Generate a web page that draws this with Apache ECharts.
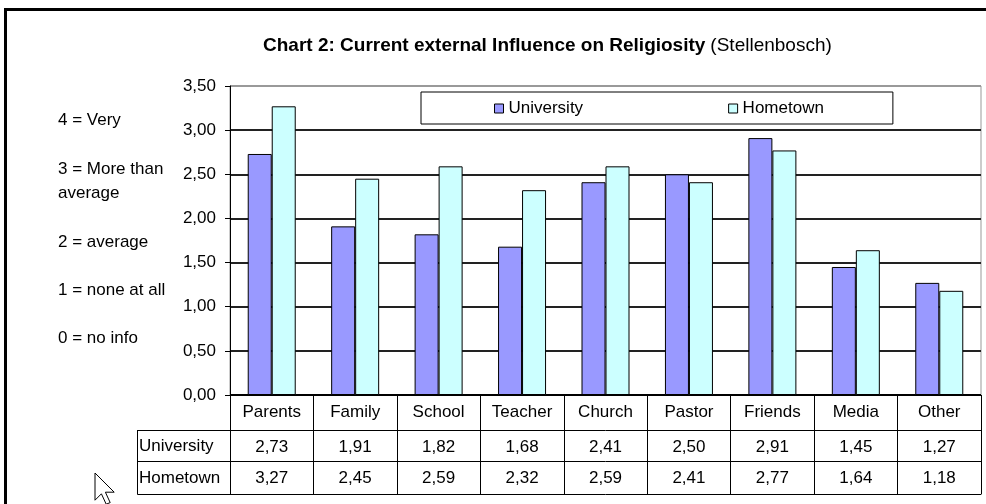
<!DOCTYPE html>
<html>
<head>
<meta charset="utf-8">
<script src="https://cdn.jsdelivr.net/npm/echarts@6/dist/echarts.min.js"></script>
<style>
  html, body { margin: 0; padding: 0; background: #fff; }
  #chart { width: 986px; height: 504px; }
</style>
</head>
<body>
<div id="chart"></div>
<script>
// Influence sources and mean scores (0-4 scale) for the two settings
const categories = ['Parents', 'Family', 'School', 'Teacher', 'Church', 'Pastor', 'Friends', 'Media', 'Other'];
const university = [2.73, 1.91, 1.82, 1.68, 2.41, 2.50, 2.91, 1.45, 1.27];
const hometown   = [3.27, 2.45, 2.59, 2.32, 2.59, 2.41, 2.77, 1.64, 1.18];
const seriesNames = ['University', 'Hometown'];
const scaleNotes = ['4 = Very', '3 = More than', 'average', '2 = average', '1 = none at all', '0 = no info'];

const FONT = "'Liberation Sans', Arial, sans-serif";
const comma = (v) => v.toFixed(2).replace('.', ',');

const chart = echarts.init(document.getElementById('chart'), null, { renderer: 'canvas' });

// Grid edges, reused for the table block under the plot
const G = { left: 230, top: 86, right: 5, bottom: 109 };
const ROW0 = 35, ROW1 = 31, ROW2 = 33;

// One bottom category axis per table row; ticks at the boundaries act as cell dividers
function tableAxis(offset, tickLen, labels, showLine) {
  return {
    type: 'category',
    gridIndex: 0,
    position: 'bottom',
    offset: offset,
    data: labels,
    boundaryGap: true,
    axisLine: { show: showLine, lineStyle: { color: '#000', width: 1 } },
    axisTick: { show: tickLen > 0, length: tickLen, interval: 0, lineStyle: { color: '#000', width: 1 } },
    axisLabel: { show: labels.some(l => l !== ''), interval: 0, margin: 9, color: '#000', fontSize: 17, fontFamily: FONT },
    splitLine: { show: false }
  };
}

const option = {
  backgroundColor: '#fff',
  animation: false,
  title: {
    left: 258,
    top: 31,
    text: '{b|Chart 2: Current external Influence on Religiosity} {n|(Stellenbosch)}',
    textStyle: {
      rich: {
        b: { fontFamily: FONT, fontSize: 19, fontWeight: 'bold', color: '#000' },
        n: { fontFamily: FONT, fontSize: 19, fontWeight: 'normal', color: '#000' }
      }
    }
  },
  legend: {
    data: seriesNames,
    left: 421,
    top: 92,
    orient: 'horizontal',
    padding: [8, 69, 7, 73],
    itemGap: 145,
    itemWidth: 9,
    itemHeight: 9,
    icon: 'rect',
    backgroundColor: '#fff',
    borderColor: '#000',
    borderWidth: 1,
    textStyle: { fontFamily: FONT, fontSize: 17, color: '#000' },
    itemStyle: { borderColor: '#000', borderWidth: 1 }
  },
  grid: {
    left: G.left, top: G.top, right: G.right, bottom: G.bottom,
    show: true, borderColor: '#999', borderWidth: 1, backgroundColor: 'transparent'
  },
  xAxis: [
    tableAxis(0, ROW0, categories, true),
    tableAxis(ROW0, ROW1, university.map(comma), true),
    tableAxis(ROW0 + ROW1, ROW2, hometown.map(comma), true),
    tableAxis(ROW0 + ROW1 + ROW2, 0, categories.map(() => ''), true)
  ],
  yAxis: {
    type: 'value',
    min: 0,
    max: 3.5,
    interval: 0.5,
    axisLine: { show: true, lineStyle: { color: '#000', width: 1 } },
    axisTick: { show: true, length: 5, lineStyle: { color: '#000' } },
    axisLabel: { margin: 14, color: '#000', fontSize: 17, fontFamily: FONT, formatter: (v) => comma(v) },
    splitLine: {
      show: true,
      lineStyle: { color: ['#000', '#222', '#222', '#222', '#222', '#222', '#222', '#999'], width: 2 }
    }
  },
  series: [
    {
      name: seriesNames[0],
      type: 'bar',
      xAxisIndex: 0,
      data: university,
      barWidth: 24,
      barGap: '0%',
      itemStyle: { color: '#9999FF', borderColor: '#000', borderWidth: 1 }
    },
    {
      name: seriesNames[1],
      type: 'bar',
      xAxisIndex: 0,
      data: hometown,
      barWidth: 24,
      barGap: '0%',
      itemStyle: { color: '#CCFFFF', borderColor: '#000', borderWidth: 1 }
    }
  ],
  graphic: []
};

chart.setOption(option);

// Row-header column of the data table, the side notes, the outer frame and the pointer
function decorations() {
  const h = 504;
  const yTop = h - G.bottom;          // x axis line
  const r1 = yTop + ROW0;             // top of University row
  const r2 = r1 + ROW1;               // top of Hometown row
  const r3 = r2 + ROW2;               // table bottom
  const xL = 137;
  const els = [
    { type: 'rect', shape: { x: 5.5, y: 9.5, width: 1000, height: 600 },
      style: { fill: null, stroke: '#000', lineWidth: 3 }, silent: true, z: 100 },
    { type: 'polyline', shape: { points: [[xL + 0.5, r1 + 0.5], [xL + 0.5, r3 + 0.5], [G.left, r3 + 0.5]] },
      style: { stroke: '#000', lineWidth: 1, fill: null }, silent: true },
    { type: 'line', shape: { x1: xL, y1: r1 + 0.5, x2: G.left, y2: r1 + 0.5 },
      style: { stroke: '#000', lineWidth: 1 }, silent: true },
    { type: 'line', shape: { x1: xL, y1: r2 + 0.5, x2: G.left, y2: r2 + 0.5 },
      style: { stroke: '#000', lineWidth: 1 }, silent: true },
    { type: 'text', x: xL + 2, y: (r1 + r2) / 2 + 1,
      style: { text: seriesNames[0], font: '17px ' + FONT, fill: '#000', textVerticalAlign: 'middle', verticalAlign: 'middle' } },
    { type: 'text', x: xL + 2, y: (r2 + r3) / 2 + 1,
      style: { text: seriesNames[1], font: '17px ' + FONT, fill: '#000', textVerticalAlign: 'middle', verticalAlign: 'middle' } }
  ];
  const noteY = [120, 169, 193, 242, 290, 338];
  scaleNotes.forEach((t, i) => {
    els.push({ type: 'text', x: 58, y: noteY[i],
      style: { text: t, font: '17px ' + FONT, fill: '#000', verticalAlign: 'middle', textVerticalAlign: 'middle' } });
  });
  // mouse pointer
  const px = 95, py = 473, s = 1.6;
  const arrow = [[0, 0], [0, 17], [4, 13], [7, 19.5], [9.5, 18.5], [6.5, 12], [12, 12]]
    .map(p => [px + p[0] * s, py + p[1] * s]);
  els.push({ type: 'polygon', shape: { points: arrow },
    style: { fill: '#fff', stroke: '#000', lineWidth: 1 }, z: 101 });
  return els;
}

chart.setOption({ graphic: decorations() });
</script>
</body>
</html>
